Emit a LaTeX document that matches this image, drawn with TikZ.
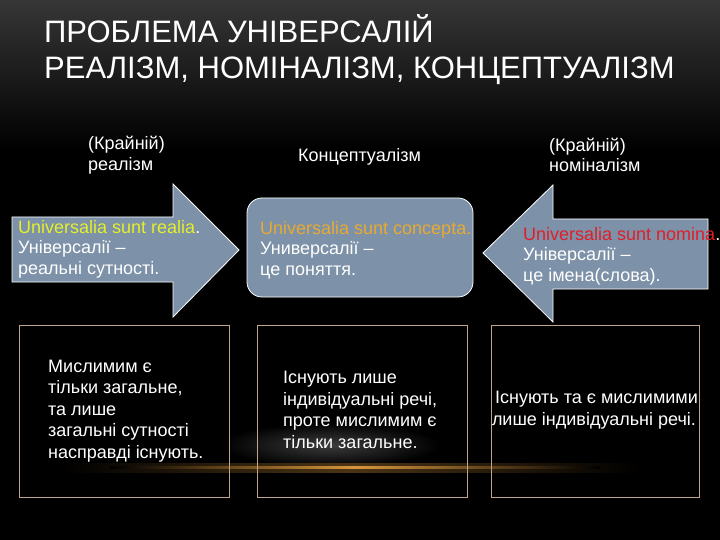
\documentclass[tikz,border=0pt]{standalone}
\usepackage{fontspec}
\setmainfont{Liberation Sans}
\usetikzlibrary{positioning}
\definecolor{slate}{RGB}{125,145,168}
\definecolor{realiaC}{RGB}{228,240,40}
\definecolor{conceptaC}{RGB}{232,170,50}
\definecolor{nominaC}{RGB}{225,30,40}
\definecolor{frameC}{RGB}{190,165,140}
\definecolor{glowC}{RGB}{215,150,60}
\tikzset{x=1pt, y=-1pt,
every node/.style={text=white, inner sep=0pt, font=\fontsize{18}{20.5}\selectfont},
txt/.style={align=left, anchor=west},
plate/.style={fill=slate, draw=white, line width=0.8pt},
frame/.style={draw=frameC, line width=0.7pt},
}

\begin{document}
\begin{tikzpicture}
            % background
            \fill[black] (0,0) rectangle (720,540);
            \useasboundingbox (0,0) rectangle (720,540);
            \shade[top color={rgb,255:red,54;green,54;blue,54}, bottom color=black] (0,0) rectangle (720,150);
            \shade[inner color={rgb,255:red,60;green,60;blue,62}, outer color=black] (330,445) ellipse (110 and 22);
            \shade[left color=black, right color=black, middle color=glowC!35!black] (60,463) rectangle (640,472);
            \shade[left color=black, right color=black, middle color=glowC] (110,466) rectangle (600,468.5);

            % title
            \node[txt, font=\fontsize{31}{36}\selectfont] (title) at (44,50)
                {ПРОБЛЕМА УНІВЕРСАЛІЙ\\РЕАЛІЗМ, НОМІНАЛІЗМ, КОНЦЕПТУАЛІЗМ};

            % headings
            \node[txt] (h0) at (88,155) {(Крайній)\\реалізм};
            \node[txt] (h1) at (298,157) {Концептуалізм};
            \node[txt] (h2) at (549,155) {(Крайній)\\номіналізм};

            % plates
            \filldraw[plate] (12,217) -- (173,217) -- (173,184) -- (239,250)
                -- (173,317) -- (173,282) -- (12,282) -- cycle;
            \filldraw[plate, rounded corners=15pt] (247,198) rectangle (473,297);
            \filldraw[plate] (708,219) -- (553,219) -- (553,185) -- (483,253)
                -- (553,322) -- (553,289) -- (708,289) -- cycle;

            \node[txt] (p0) at (18,249) {\textcolor{realiaC}{Universalia sunt realia}.\\Універсалії --\\реальні сутності.};
            \node[txt] (p1) at (260,250) {\textcolor{conceptaC}{Universalia sunt concepta.}\\Универсалії --\\це поняття.};
            \node[txt] (p2) at (523,256) {\textcolor{nominaC}{Universalia sunt nomina}.\\Універсалії --\\це імена(слова).};

            % frames
            \draw[frame] (19,325) rectangle (229,497);
            \draw[frame] (257,325) rectangle (467,497);
            \draw[frame] (491,325) rectangle (699,497);

            \node[txt, font=\fontsize{18}{21.5}\selectfont] (b0) at (48,411)
                {Мислимим є\\тільки загальне,\\та лише\\загальні сутності\\насправді існують.};
            \node[txt, font=\fontsize{18}{21.5}\selectfont] (b1) at (283,410)
                {Існують лише\\індивідуальні речі,\\проте мислимим є\\тільки загальне.};
            \node[align=center, font=\fontsize{18}{21.5}\selectfont] (b2) at (594,410)
                {\ Існують та є мислимими\\лише індивідуальні речі.};
        \end{tikzpicture}
\end{document}
